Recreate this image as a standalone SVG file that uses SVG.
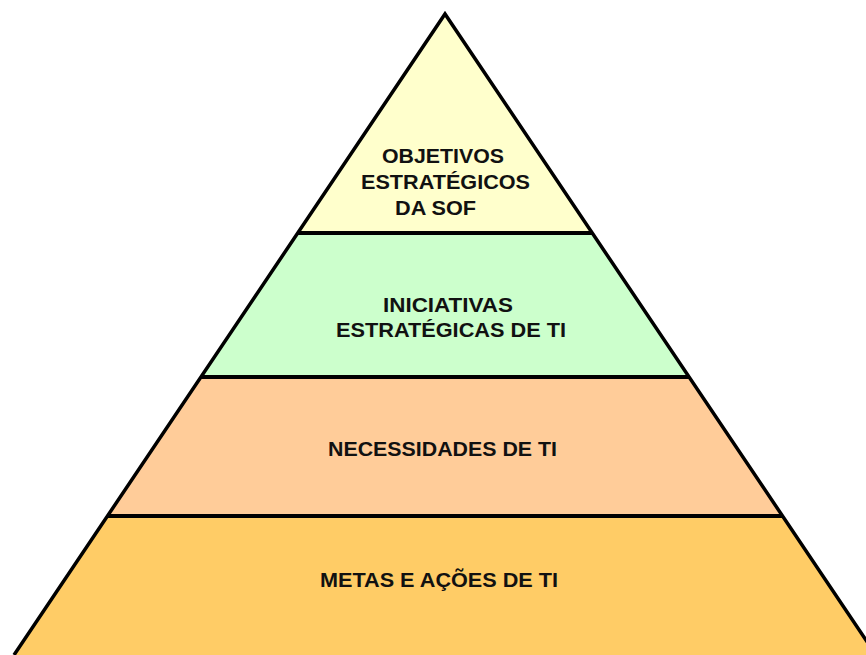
<svg xmlns="http://www.w3.org/2000/svg" width="866" height="655" viewBox="0 0 866 655">
<style>
.lbl{font-family:"Liberation Sans",Arial,sans-serif;font-weight:bold;font-size:21px;fill:#111;}
.div{stroke:#000;stroke-width:4;fill:none;}
.edge{stroke:#000;stroke-width:3.5;fill:none;stroke-linejoin:miter;}
</style>
<rect width="866" height="655" fill="#fff"/>
<g id="objetivos">
<polygon points="445,14 297.7,233 592.3,233" fill="#FFFFCC"/>
<text class="lbl" x="382" y="163" textLength="122" lengthAdjust="spacingAndGlyphs">OBJETIVOS</text>
<text class="lbl" x="361" y="189" textLength="169" lengthAdjust="spacingAndGlyphs">ESTRATÉGICOS</text>
<text class="lbl" x="395" y="215" textLength="81" lengthAdjust="spacingAndGlyphs">DA SOF</text>
</g>
<g id="iniciativas">
<polygon points="297.7,233 592.3,233 689.1,377 200.9,377" fill="#CCFFCC"/>
<text class="lbl" x="383" y="312" textLength="130" lengthAdjust="spacingAndGlyphs">INICIATIVAS</text>
<text class="lbl" x="336" y="337" textLength="230" lengthAdjust="spacingAndGlyphs">ESTRATÉGICAS DE TI</text>
</g>
<g id="necessidades">
<polygon points="200.9,377 689.1,377 782.5,516 107.5,516" fill="#FFCC99"/>
<text class="lbl" x="328" y="456" textLength="229" lengthAdjust="spacingAndGlyphs">NECESSIDADES DE TI</text>
</g>
<g id="metas">
<polygon points="107.5,516 782.5,516 876,655 14,655" fill="#FFCC66"/>
<text class="lbl" x="320" y="587" textLength="238" lengthAdjust="spacingAndGlyphs">METAS E AÇÕES DE TI</text>
</g>
<g id="connectors">
<polyline class="edge" points="14,655 445,14 876,655"/>
<line class="div" x1="297.7" y1="233" x2="592.3" y2="233"/>
<line class="div" x1="200.9" y1="377" x2="689.1" y2="377"/>
<line class="div" x1="107.5" y1="516" x2="782.5" y2="516"/>
</g>
</svg>
